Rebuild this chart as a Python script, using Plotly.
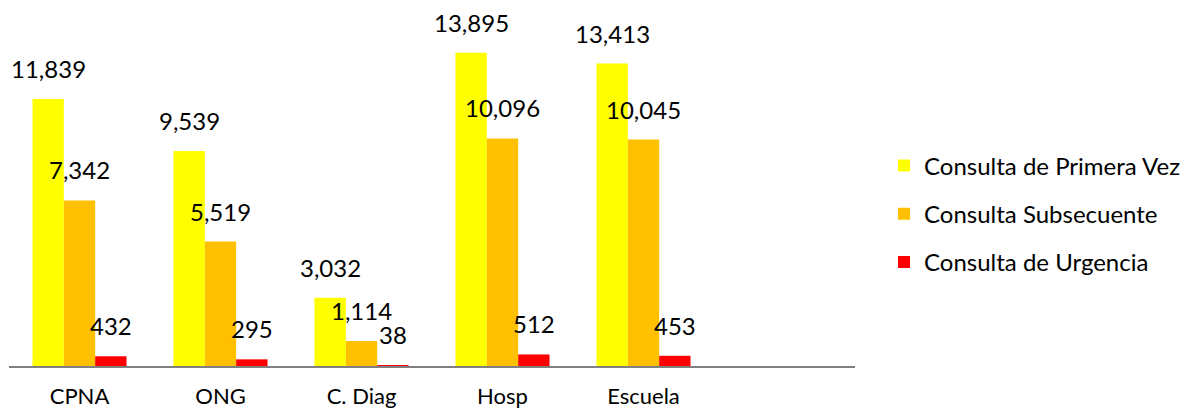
import plotly.graph_objects as go

categories = ["CPNA", "ONG", "C. Diag", "Hosp", "Escuela"]
series_names = ["Consulta de Primera Vez", "Consulta Subsecuente", "Consulta de Urgencia"]
primera_vez = [11839, 9539, 3032, 13895, 13413]
subsecuente = [7342, 5519, 1114, 10096, 10045]
urgencia = [432, 295, 38, 512, 453]
colors = ["#FFFF00", "#FFC000", "#FF0000"]

all_cats = categories + [" "]
series = [primera_vez, subsecuente, urgencia]

# page body adds an 8px margin, so the figure is sized/positioned accordingly
W, H = 1183, 404
ml, mr, mt, mb = 1, 336, 0, 46
plot_w = W - ml - mr
plot_h = H - mt - mb
cat_w = plot_w / len(all_cats)
bargap = 0.333
bar_w = cat_w * (1 - bargap) / 3

FONT = "Lato"

fig = go.Figure()
for i, (name, vals, col) in enumerate(zip(series_names, series, colors)):
    fig.add_trace(go.Bar(
        x=categories, y=vals, name=name, marker=dict(color=col, line=dict(width=0)),
        legendgroup=f"g{i}", hoverinfo="skip",
    ))
    for c, v in zip(categories, vals):
        fig.add_annotation(
            x=c, y=v, xref="x", yref="y", text=f"{v:,}", showarrow=False,
            xshift=(i - 1) * bar_w, yshift=14, yanchor="bottom", xanchor="center",
            font=dict(family=FONT, size=24, color="#000000"),
        )

fig.update_layout(
    width=W, height=H,
    margin=dict(l=ml, r=mr, t=mt, b=mb, autoexpand=False),
    paper_bgcolor="white", plot_bgcolor="white",
    barmode="group", bargap=bargap, bargroupgap=0,
    showlegend=True,
    legend=dict(
        x=(876 - ml) / plot_w, xanchor="left", y=(plot_h - 206) / plot_h, yanchor="middle",
        font=dict(family=FONT, size=24, color="#000000"),
        tracegroupgap=14, itemwidth=30, bgcolor="rgba(0,0,0,0)",
    ),
    font=dict(family=FONT, color="#000000"),
)
fig.update_xaxes(
    categoryorder="array", categoryarray=all_cats, range=[-0.5, len(all_cats) - 0.5],
    showline=True, linecolor="#808080", linewidth=2, showgrid=False, zeroline=False,
    ticks="", tickfont=dict(family=FONT, size=22, color="#000000"), ticklabelstandoff=10,
    automargin=False,
)
fig.update_yaxes(
    range=[0, 15880], showgrid=False, zeroline=False, showticklabels=False, showline=False,
    automargin=False,
)

fig.write_html("out.html")
